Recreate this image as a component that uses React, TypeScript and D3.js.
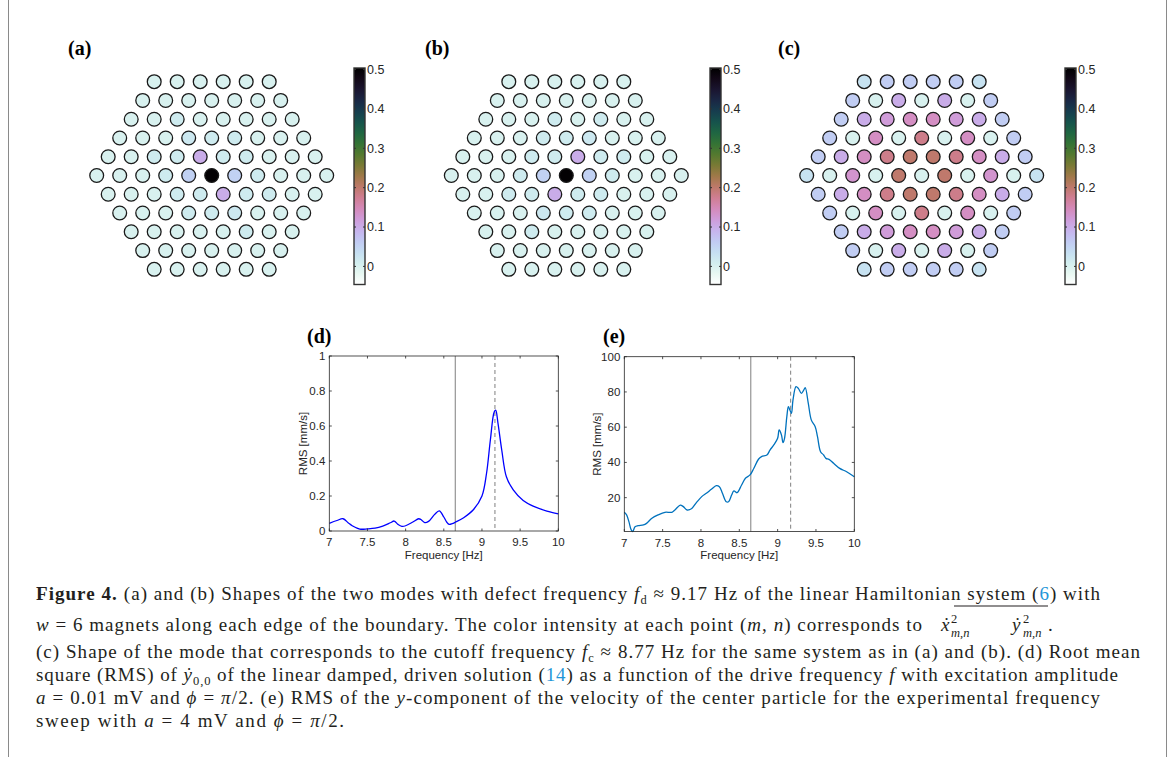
import * as d3 from "d3";

// ---- hexagonal lattice values (rows of 6..11..6 magnets, w = 6) ----
const hexRowCounts = [6, 7, 8, 9, 10, 11, 10, 9, 8, 7, 6];

const modeA = [
  [0, 0, 0, 0, 0, 0],
  [0, 0, 0, 0, 0, 0, 0],
  [0, 0, 0.015, 0, 0, 0, 0, 0],
  [0, 0, 0, 0.02, 0.015, 0.015, 0, 0, 0],
  [0, 0, 0.015, 0.015, 0.1, 0.015, 0.015, 0, 0, 0],
  [0, 0, 0, 0.015, 0.055, 0.5, 0.055, 0.015, 0, 0, 0],
  [0, 0, 0, 0.015, 0.015, 0.1, 0.015, 0.015, 0, 0],
  [0, 0, 0, 0.015, 0.015, 0.02, 0, 0, 0],
  [0, 0, 0, 0, 0, 0.015, 0, 0],
  [0, 0, 0, 0, 0, 0, 0],
  [0, 0, 0, 0, 0, 0],
];

const modeB = [
  [0, 0, 0, 0, 0, 0],
  [0, 0, 0, 0, 0, 0, 0],
  [0, 0, 0, 0.015, 0, 0.015, 0, 0],
  [0, 0, 0, 0.015, 0.015, 0.02, 0, 0, 0],
  [0, 0, 0, 0.015, 0.015, 0.1, 0.015, 0.015, 0, 0],
  [0, 0, 0, 0.015, 0.055, 0.5, 0.055, 0.015, 0, 0, 0],
  [0, 0, 0.015, 0.015, 0.1, 0.015, 0.015, 0, 0, 0],
  [0, 0, 0, 0.02, 0.015, 0.015, 0, 0, 0],
  [0, 0, 0.015, 0, 0, 0, 0, 0],
  [0, 0, 0, 0, 0, 0, 0],
  [0, 0, 0, 0, 0, 0],
];

const modeC = [
  [0.03, 0.06, 0.06, 0.06, 0.06, 0.03],
  [0.06, 0, 0.1, 0, 0.1, 0, 0.06],
  [0.06, 0.1, 0.12, 0.14, 0.14, 0.12, 0.1, 0.06],
  [0.06, 0, 0.14, 0, 0.18, 0, 0.14, 0, 0.06],
  [0.06, 0.1, 0.14, 0.18, 0.2, 0.2, 0.18, 0.14, 0.1, 0.06],
  [0.03, 0, 0.13, 0, 0.2, 0, 0.2, 0, 0.13, 0, 0.03],
  [0.06, 0.1, 0.14, 0.18, 0.2, 0.2, 0.18, 0.14, 0.1, 0.06],
  [0.06, 0, 0.14, 0, 0.18, 0, 0.14, 0, 0.06],
  [0.06, 0.1, 0.12, 0.14, 0.14, 0.12, 0.1, 0.06],
  [0.06, 0, 0.1, 0, 0.1, 0, 0.06],
  [0.03, 0.06, 0.06, 0.06, 0.06, 0.03],
];

const cbTicks = [0, 0.1, 0.2, 0.3, 0.4, 0.5];

// ---- (d) linear damped driven solution ----
const dFreq = [7.0, 7.1, 7.18, 7.25, 7.3, 7.4, 7.5, 7.6, 7.7, 7.8, 7.85, 7.9, 7.95, 8.0, 8.1, 8.17, 8.2, 8.25, 8.3, 8.38, 8.44, 8.5, 8.54, 8.57, 8.61, 8.65, 8.76, 8.89, 9.0, 9.06, 9.11, 9.16, 9.18, 9.21, 9.26, 9.32, 9.41, 9.54, 9.67, 9.85, 10.0];
const dRms = [0.044, 0.06, 0.07, 0.046, 0.03, 0.011, 0.012, 0.016, 0.028, 0.047, 0.057, 0.038, 0.027, 0.03, 0.053, 0.07, 0.066, 0.048, 0.055, 0.095, 0.115, 0.08, 0.05, 0.038, 0.042, 0.05, 0.076, 0.123, 0.2, 0.33, 0.52, 0.68, 0.69, 0.615, 0.46, 0.31, 0.235, 0.174, 0.142, 0.114, 0.098];

// ---- (e) experimental frequency sweep ----
const eFreq = [7.0, 7.03, 7.06, 7.09, 7.11, 7.14, 7.18, 7.25, 7.29, 7.36, 7.44, 7.53, 7.62, 7.66, 7.73, 7.77, 7.82, 7.88, 7.94, 8.01, 8.07, 8.14, 8.2, 8.24, 8.28, 8.33, 8.36, 8.4, 8.43, 8.47, 8.53, 8.58, 8.64, 8.69, 8.75, 8.79, 8.86, 8.9, 8.95, 9.0, 9.02, 9.05, 9.07, 9.09, 9.12, 9.14, 9.16, 9.18, 9.2, 9.24, 9.27, 9.31, 9.34, 9.36, 9.4, 9.44, 9.49, 9.52, 9.56, 9.6, 9.63, 9.67, 9.73, 9.81, 9.9, 10.0];
const eRms = [11.7, 10.2, 6.4, 1.7, 0.8, 3.5, 4.1, 4.5, 5.4, 8.3, 10.2, 11.7, 11.7, 13, 15.8, 14.9, 13, 13.9, 17.2, 20.6, 22.5, 24.9, 26.8, 26.2, 22.5, 17.7, 17.7, 21.5, 23.8, 22.8, 27.2, 31, 32.9, 36.7, 41.8, 43.3, 44.2, 47, 49.9, 53.7, 58.4, 55.6, 51.2, 53.7, 66, 71.6, 69.7, 67.9, 75.4, 83, 82, 79.2, 81, 82.4, 73.5, 64, 60.3, 54.6, 46.1, 44.2, 42.3, 41.7, 39.5, 36.6, 34.7, 31.9];

const freqTicks = [7, 7.5, 8, 8.5, 9, 9.5, 10];
const dTicks = [0, 0.2, 0.4, 0.6, 0.8, 1];
const eTicks = [20, 40, 60, 80, 100];
const cutoffFreq = 8.65;
const defectFreq = 9.17;

const sans = "'Liberation Sans', Arial, Helvetica, sans-serif";
const serif = "'Liberation Serif', 'Times New Roman', serif";
const ink = "#262626";

const cbDomain: [number, number] = [-0.046, 0.504];
const colour = d3
  .scaleSequential((t: number) => d3.interpolateCubehelixDefault(1 - t))
  .domain(cbDomain);

function HexPanel({ values, cx, cbx, labelX, label, gid }: any) {
  const xs = d3.scaleLinear().domain([-5, 5]).range([cx - 115, cx + 115]);
  const ys = d3.scaleLinear().domain([0, 10]).range([81.7, 269.3]);
  const cy = d3.scaleLinear().domain(cbDomain).range([284.5, 68]);
  const stops = d3.range(0, 1.0001, 0.05);
  return (
    <g>
      <text x={labelX} y={55} fontFamily={serif} fontWeight="bold" fontSize={20}>
        {label}
      </text>
      {values.map((row: number[], r: number) =>
        row.map((v, c) => (
          <circle
            key={`${r}-${c}`}
            cx={xs(c - (hexRowCounts[r] - 1) / 2)}
            cy={ys(r)}
            r={6.9}
            fill={colour(v)}
            stroke="#1a1a1a"
            strokeWidth={1.3}
          />
        ))
      )}
      <defs>
        <linearGradient id={gid} x1="0" y1="1" x2="0" y2="0">
          {stops.map((t) => (
            <stop key={t} offset={t} stopColor={d3.interpolateCubehelixDefault(1 - t)} />
          ))}
        </linearGradient>
      </defs>
      <rect x={cbx} y={68} width={11} height={216.5} fill={`url(#${gid})`} stroke="#333" strokeWidth={1.4} />
      {cbTicks.map((t) => (
        <g key={t}>
          <line x1={cbx + 11} x2={cbx + 9} y1={cy(t)} y2={cy(t)} stroke="#333" strokeWidth={1} />
          <line x1={cbx} x2={cbx + 2} y1={cy(t)} y2={cy(t)} stroke="#333" strokeWidth={1} />
          <text x={cbx + 13} y={cy(t) + 4.3} fontFamily={sans} fontSize={12.5} fill={ink}>
            {t}
          </text>
        </g>
      ))}
    </g>
  );
}

function LinePanel({ freq, rms, yDomain, yTicks, left, right, top, bottom, color, label, labelX, ylabX }: any) {
  const x = d3.scaleLinear().domain([7, 10]).range([left, right]);
  const y = d3.scaleLinear().domain(yDomain).range([bottom, top]);
  const path = d3
    .line<number>()
    .x((_, i) => x(freq[i]))
    .y((v) => y(v))
    .curve(d3.curveCatmullRom.alpha(0.5))(rms);
  const tl = 2.5;
  return (
    <g fontFamily={sans} fill={ink}>
      <text x={labelX} y={343} fontFamily={serif} fontWeight="bold" fontSize={20} fill="#000">
        {label}
      </text>
      <line x1={x(cutoffFreq)} x2={x(cutoffFreq)} y1={top} y2={bottom} stroke="#7f7f7f" strokeWidth={1} />
      <line x1={x(defectFreq)} x2={x(defectFreq)} y1={top} y2={bottom} stroke="#7f7f7f" strokeWidth={1} strokeDasharray="4,3" />
      <path d={path || ""} fill="none" stroke={color} strokeWidth={1.3} />
      <rect x={left} y={top} width={right - left} height={bottom - top} fill="none" stroke={ink} strokeWidth={0.8} />
      {freqTicks.map((t) => (
        <g key={t}>
          <line x1={x(t)} x2={x(t)} y1={bottom} y2={bottom - tl} stroke={ink} strokeWidth={0.8} />
          <line x1={x(t)} x2={x(t)} y1={top} y2={top + tl} stroke={ink} strokeWidth={0.8} />
          <text x={x(t)} y={bottom + 15} textAnchor="middle" fontSize={11.5}>
            {t}
          </text>
        </g>
      ))}
      {yTicks.map((t: number) => (
        <g key={t}>
          <line x1={left} x2={left + tl} y1={y(t)} y2={y(t)} stroke={ink} strokeWidth={0.8} />
          <line x1={right} x2={right - tl} y1={y(t)} y2={y(t)} stroke={ink} strokeWidth={0.8} />
          <text x={left - 4} y={y(t) + 4} textAnchor="end" fontSize={11.5}>
            {t}
          </text>
        </g>
      ))}
      <text x={(left + right) / 2} y={bottom + 27.5} textAnchor="middle" fontSize={11.5}>
        Frequency [Hz]
      </text>
      <text transform={`translate(${ylabX},${(top + bottom) / 2}) rotate(-90)`} textAnchor="middle" fontSize={11.5}>
        RMS [mm/s]
      </text>
    </g>
  );
}

function Caption() {
  const fs = 19;
  const sub = 12.5;
  const blue = "#1f96d8";
  const c = "#231f20";
  return (
    <g fontFamily={serif} fontSize={fs} fill={c}>
      <text x={36} y={600} textLength={1064} lengthAdjust="spacing">
        <tspan fontWeight="bold">Figure 4.</tspan>
        <tspan dx={6}>(a) and (b) Shapes of the two modes with defect frequency </tspan>
        <tspan fontStyle="italic">f</tspan>
        <tspan fontSize={sub} dy={4}>d</tspan>
        <tspan dy={-4}> ≈ 9.17 Hz of the linear Hamiltonian system (</tspan>
        <tspan fill={blue}>6</tspan>
        <tspan>) with</tspan>
      </text>
      <line x1={954} x2={1048} y1={606} y2={606} stroke={c} strokeWidth={1.2} />
      <text x={36} y={631} textLength={886} lengthAdjust="spacing">
        <tspan fontStyle="italic">w</tspan>
        <tspan> = 6 magnets along each edge of the boundary. The color intensity at each point (</tspan>
        <tspan fontStyle="italic">m</tspan>
        <tspan>, </tspan>
        <tspan fontStyle="italic">n</tspan>
        <tspan>) corresponds to</tspan>
      </text>
      <text x={941} y={631} fontStyle="italic">ẋ</text>
      <text x={951} y={623} fontSize={sub}>2</text>
      <text x={951} y={637} fontSize={sub} fontStyle="italic">m,n</text>
      <text x={1012} y={631} fontStyle="italic">ẏ</text>
      <text x={1023} y={623} fontSize={sub}>2</text>
      <text x={1023} y={637} fontSize={sub} fontStyle="italic">m,n</text>
      <text x={1048} y={631}>.</text>
      <text x={36} y={658} textLength={1104} lengthAdjust="spacing">
        <tspan>(c) Shape of the mode that corresponds to the cutoff frequency </tspan>
        <tspan fontStyle="italic">f</tspan>
        <tspan fontSize={sub} dy={4}>c</tspan>
        <tspan dy={-4}> ≈ 8.77 Hz for the same system as in (a) and (b). (d) Root mean</tspan>
      </text>
      <text x={36} y={681} textLength={1082} lengthAdjust="spacing">
        <tspan>square (RMS) of </tspan>
        <tspan fontStyle="italic">ẏ</tspan>
        <tspan fontSize={sub} dy={4}>0,0</tspan>
        <tspan dy={-4}> of the linear damped, driven solution (</tspan>
        <tspan fill={blue}>14</tspan>
        <tspan>) as a function of the drive frequency </tspan>
        <tspan fontStyle="italic">f</tspan>
        <tspan> with excitation amplitude</tspan>
      </text>
      <text x={36} y={704} textLength={1064} lengthAdjust="spacing">
        <tspan fontStyle="italic">a</tspan>
        <tspan> = 0.01 mV and </tspan>
        <tspan fontStyle="italic">ϕ</tspan>
        <tspan> = </tspan>
        <tspan fontStyle="italic">π</tspan>
        <tspan>/2. (e) RMS of the </tspan>
        <tspan fontStyle="italic">y</tspan>
        <tspan>-component of the velocity of the center particle for the experimental frequency</tspan>
      </text>
      <text x={36} y={727} textLength={308} lengthAdjust="spacing">
        <tspan>sweep with </tspan>
        <tspan fontStyle="italic">a</tspan>
        <tspan> = 4 mV and </tspan>
        <tspan fontStyle="italic">ϕ</tspan>
        <tspan> = </tspan>
        <tspan fontStyle="italic">π</tspan>
        <tspan>/2.</tspan>
      </text>
    </g>
  );
}

export default function App() {
  return (
    <svg
      width={1173}
      height={757}
      style={{ position: "absolute", left: 0, top: 0, background: "#fff" }}
    >
      <rect width={1173} height={757} fill="#fff" />
      <line x1={8.5} x2={8.5} y1={0} y2={757} stroke="#8a8a8a" strokeWidth={1} />
      <line x1={1166.5} x2={1166.5} y1={0} y2={757} stroke="#8a8a8a" strokeWidth={1} />
      <HexPanel values={modeA} cx={211.7} cbx={354} labelX={68} label="(a)" gid="cbA" />
      <HexPanel values={modeB} cx={566.3} cbx={710} labelX={425} label="(b)" gid="cbB" />
      <HexPanel values={modeC} cx={921.7} cbx={1065} labelX={778} label="(c)" gid="cbC" />
      <LinePanel
        freq={dFreq}
        rms={dRms}
        yDomain={[0, 1]}
        yTicks={dTicks}
        left={329.3}
        right={558.3}
        top={356}
        bottom={531}
        color="#0000ff"
        label="(d)"
        labelX={307}
        ylabX={307}
      />
      <LinePanel
        freq={eFreq}
        rms={eRms}
        yDomain={[0.8, 100]}
        yTicks={eTicks}
        left={624.3}
        right={854.3}
        top={356.7}
        bottom={531.5}
        color="#0072bd"
        label="(e)"
        labelX={603}
        ylabX={601}
      />
      <Caption />
    </svg>
  );
}
